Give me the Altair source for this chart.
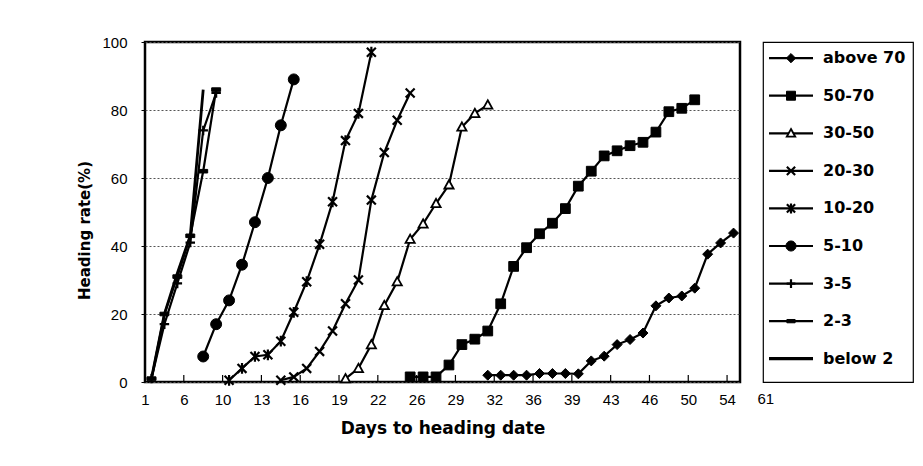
import json
import altair as alt
import pandas as pd

# ---------------- data ----------------
series_names = ["above 70", "50-70", "30-50", "20-30", "10-20", "5-10", "3-5", "2-3", "below 2"]
x_tick_labels = ["1", "6", "10", "13", "16", "19", "22", "26", "29", "32",
                 "36", "39", "43", "46", "50", "54", "61"]
y_ticks = [0, 20, 40, 60, 80, 100]

# category index (0-based observation day on the category axis) and heading rate (%)
above70_i = list(range(26, 46))
above70_v = [2, 2, 2, 2, 2.5, 2.5, 2.5, 2.4, 6.2, 7.6, 11, 12.5, 14.4, 22.4, 24.7, 25.3, 27.6, 37.6, 40.9, 43.8]

s5070_i = list(range(20, 43))
s5070_v = [1.5, 1.5, 1.5, 5, 11, 12.6, 15, 23, 34, 39.5, 43.6, 46.7, 51, 57.6, 62, 66.5,
           68, 69.5, 70.5, 73.5, 79.5, 80.5, 83]

s3050_i = list(range(15, 27))
s3050_v = [1, 4, 11, 22.5, 29.5, 42, 46.5, 52.5, 58, 75, 79, 81.5]

s2030_i = list(range(10, 21))
s2030_v = [0.5, 1.5, 4, 9, 15, 23, 30, 53.5, 67.5, 77, 85]

s1020_i = list(range(6, 18))
s1020_v = [0.5, 4, 7.5, 8, 12, 20.5, 29.5, 40.5, 53, 71, 79, 97]

s510_i = list(range(4, 12))
s510_v = [7.5, 17, 24, 34.5, 47, 60, 75.5, 89]

s35_i = list(range(0, 6))
s35_v = [1, 17, 29, 41, 74, 85]

s23_i = list(range(0, 6))
s23_v = [1, 20, 31, 43, 62, 86]

below2_i = list(range(0, 5))
below2_v = [1, 20, 32, 43, 86]

series_i = [above70_i, s5070_i, s3050_i, s2030_i, s1020_i, s510_i, s35_i, s23_i, below2_i]
series_v = [above70_v, s5070_v, s3050_v, s2030_v, s1020_v, s510_v, s35_v, s23_v, below2_v]

# ---------------- styles ----------------
DIAMOND = "M0,-1L1,0L0,1L-1,0Z"
SQUARE = "M-1,-1L1,-1L1,1L-1,1Z"
TRI = "M0,-1L1,0.8L-1,0.8Z"
XMARK = "M-1,-1L1,1M-1,1L1,-1"
ASTER = "M-1,-1L1,1M-1,1L1,-1M0,-1.2L0,1.2"
CIRCLE = "circle"
PLUS = "M-1,0L1,0M0,-1L0,1"
BAR = "M-1,-0.4L1,-0.4L1,0.4L-1,0.4Z"

marker_style = {
    "above 70": dict(shape=DIAMOND, filled=True, fill="black", size=100, sw=1),
    "50-70": dict(shape=SQUARE, filled=True, fill="black", size=95, sw=1),
    "30-50": dict(shape=TRI, filled=True, fill="white", size=85, sw=1.8),
    "20-30": dict(shape=XMARK, filled=False, fill=None, size=80, sw=2.2),
    "10-20": dict(shape=ASTER, filled=False, fill=None, size=80, sw=2.2),
    "5-10": dict(shape=CIRCLE, filled=True, fill="black", size=120, sw=1),
    "3-5": dict(shape=PLUS, filled=False, fill=None, size=90, sw=2.2),
    "2-3": dict(shape=BAR, filled=True, fill="black", size=80, sw=1),
    "below 2": None,
}

rows = []
for name, ii, vv in zip(series_names, series_i, series_v):
    for i, v in zip(ii, vv):
        rows.append({"series": name, "cat": i, "rate": v})
df = pd.DataFrame(rows)

FONT = "Liberation Sans"
BFONT = "DejaVu Sans"
W, H = 595, 340
N_CATS = 46
LAB_PAD = 10

label_expr = "%s[round(datum.value / 3)]" % json.dumps(x_tick_labels)

x_scale = alt.Scale(domain=[0, N_CATS], nice=False, zero=False)
y_scale = alt.Scale(domain=[0, 100], nice=False)

base = alt.Chart(df).transform_calculate(pos="datum.cat + 0.5")

x_axis = alt.Axis(values=[3 * k for k in range(len(x_tick_labels))], labelExpr=label_expr,
                  title="Days to heading date", ticks=False, grid=False, domain=False,
                  labelFont=FONT, labelFontSize=15, labelColor="black",
                  labelPadding=LAB_PAD, labelFlush=False, labelOverlap=False, labelBound=False,
                  titleFont=BFONT, titleFontSize=17, titleFontWeight="bold", titleColor="black",
                  titlePadding=13)
x_enc = alt.X("pos:Q", scale=x_scale, axis=x_axis)
y_enc = alt.Y(
    "rate:Q", scale=y_scale,
    axis=alt.Axis(values=y_ticks, title="Heading rate(%)", tickSize=4, tickColor="black",
                  domain=False, grid=True, gridDash=[2, 2], gridColor="#555", gridWidth=1,
                  labelFont=FONT, labelFontSize=15, labelColor="black", labelPadding=14,
                  labelOverlap=False, titleY=H / 2 + 18,
                  titleFont=BFONT, titleFontSize=15, titleFontWeight="bold", titleColor="black",
                  titlePadding=9)
)

layers = []
for name in series_names:
    sub = base.transform_filter(alt.datum.series == name)
    layers.append(sub.mark_line(color="black", strokeWidth=2.8 if name == "below 2" else 2.2)
                  .encode(x=x_enc, y=y_enc, order="cat:Q"))
    st = marker_style[name]
    if st is not None:
        kw = dict(shape=st["shape"], size=st["size"], stroke="black", strokeWidth=st["sw"],
                  opacity=1, filled=st["filled"])
        if st["fill"] is not None:
            kw["fill"] = st["fill"]
        layers.append(sub.mark_point(**kw).encode(x=x_enc, y=y_enc))

# inside tick marks on the category axis
tick_df = pd.DataFrame({"pos": [3 * k for k in range(1, 16)]})
layers.append(
    alt.Chart(tick_df).mark_rule(color="black", strokeWidth=1.2).encode(
        x=x_enc, y=alt.value(H), y2=alt.value(H - 7))
)

# last category label lies beyond the plotted range (as in the original figure)
last_df = pd.DataFrame({"pos": [3 * (len(x_tick_labels) - 1)], "lab": [x_tick_labels[-1]]})
layers.append(
    alt.Chart(last_df).mark_text(font=FONT, fontSize=15, color="black", baseline="top",
                                 align="center")
    .encode(x=x_enc, y=alt.value(H + LAB_PAD), text="lab:N")
)

main = alt.layer(*layers).properties(
    width=W, height=H, view=alt.ViewBackground(stroke="black", strokeWidth=2.5))

# ---------------- legend panel ----------------
leg_df = pd.DataFrame({"series": series_names, "k": list(range(len(series_names)))})
leg_y = alt.Y("k:Q", scale=alt.Scale(domain=[-0.43, 8.62], nice=False, zero=False, reverse=True), axis=None)
leg_layers = [
    alt.Chart(leg_df).transform_filter(alt.datum.series != "below 2")
    .mark_rule(color="black", strokeWidth=2.2).encode(x=alt.value(6), x2=alt.value(50), y=leg_y),
    alt.Chart(leg_df).transform_filter(alt.datum.series == "below 2")
    .mark_rule(color="black", strokeWidth=3.2).encode(x=alt.value(6), x2=alt.value(50), y=leg_y),
]
for name in series_names:
    st = marker_style[name]
    if st is None:
        continue
    kw = dict(shape=st["shape"], size=st["size"] * 0.85, stroke="black", strokeWidth=st["sw"],
              opacity=1, filled=st["filled"])
    if st["fill"] is not None:
        kw["fill"] = st["fill"]
    leg_layers.append(
        alt.Chart(leg_df).transform_filter(alt.datum.series == name)
        .mark_point(**kw).encode(x=alt.value(28), y=leg_y)
    )
leg_layers.append(
    alt.Chart(leg_df).mark_text(align="left", baseline="middle", font=BFONT, fontSize=16,
                                fontWeight="bold", color="black")
    .encode(x=alt.value(60), y=leg_y, text="series:N")
)
legend = alt.layer(*leg_layers).properties(
    width=150, height=H, view=alt.ViewBackground(stroke="black", strokeWidth=1.2))

chart = (
    alt.hconcat(main, legend, spacing=23, bounds="flush")
    .properties(padding={"left": 68, "top": 25, "right": 0, "bottom": 5})
    .configure_axis(labelOverlap=False)
    .configure(background="white")
)

chart.save("out.html", embed_options={"renderer": "svg", "actions": False})
